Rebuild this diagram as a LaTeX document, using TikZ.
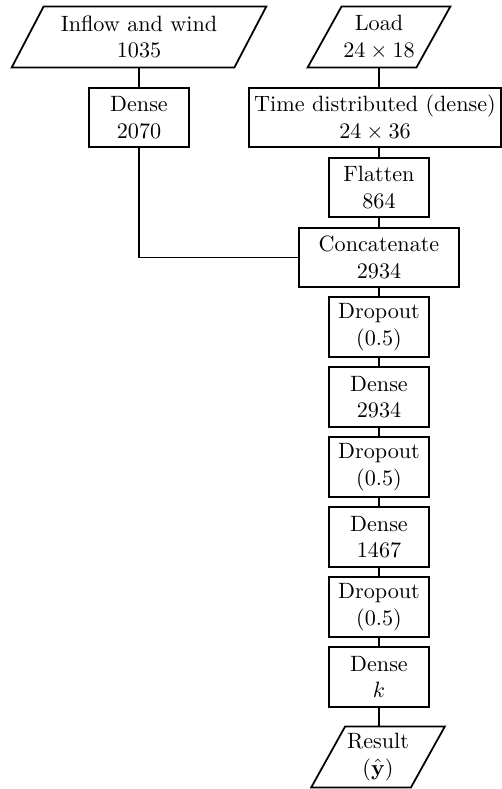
\documentclass[tikz,border=0pt]{standalone}
\usetikzlibrary{calc}
\begin{document}
\begin{tikzpicture}[x=0.4513pt,y=-0.4513pt, line width=0.8pt,
  box/.style={draw, align=center, minimum height=26.8pt, inner xsep=2pt, inner ysep=0pt, minimum width=45.1pt},
  io/.style={align=center, minimum height=26.8pt, inner sep=0pt},
  para/.style={line join=miter}]
\useasboundingbox (0,0) rectangle (502,789);
% inputs
\node[io, minimum width=99.7pt] (in) at (139,37) {Inflow and wind\\1035};
\node[io, minimum width=48.3pt] (load) at (379,37) {Load\\$24\times 18$};
% boxes
\node[box] (d1) at (139,117.5) {Dense\\2070};
\node[box, minimum width=113.7pt] (td) at (375,117.5) {Time distributed (dense)\\$24\times 36$};
\node[box] (fl) at (379,187.5) {Flatten\\864};
\node[box, minimum width=72.2pt] (cat) at (379,257.5) {Concatenate\\2934};
\node[box] (do1) at (379,327) {Dropout\\(0.5)};
\node[box] (dn1) at (379,397) {Dense\\2934};
\node[box] (do2) at (379,467) {Dropout\\(0.5)};
\node[box] (dn2) at (379,537) {Dense\\1467};
\node[box] (do3) at (379,607) {Dropout\\(0.5)};
\node[box] (dk) at (379,677) {Dense\\$k$};
\node[io, minimum width=44.2pt] (res) at (378,757) {Result\\($\hat{\mathbf{y}}$)};
% parallelograms
\foreach \n/\s in {in/16, load/17, res/17}{
  \draw[para] ($(\n.south west)+(-\s,0)$) -- ($(\n.north west)+(\s,0)$) -- ($(\n.north east)+(\s,0)$) -- ($(\n.south east)+(-\s,0)$) -- cycle;
}
% connectors
\draw (in.south) -- (d1.north);
\draw (load.south) -- (load.south |- td.north);
\draw (fl.north |- td.south) -- (fl.north);
\draw (fl) -- (cat);
\draw (d1.south) |- (cat.west);
\draw (cat) -- (do1);
\draw (do1) -- (dn1);
\draw (dn1) -- (do2);
\draw (do2) -- (dn2);
\draw (dn2) -- (do3);
\draw (do3) -- (dk);
\draw (dk.south) -- (dk.south |- res.north);
\end{tikzpicture}
\end{document}
